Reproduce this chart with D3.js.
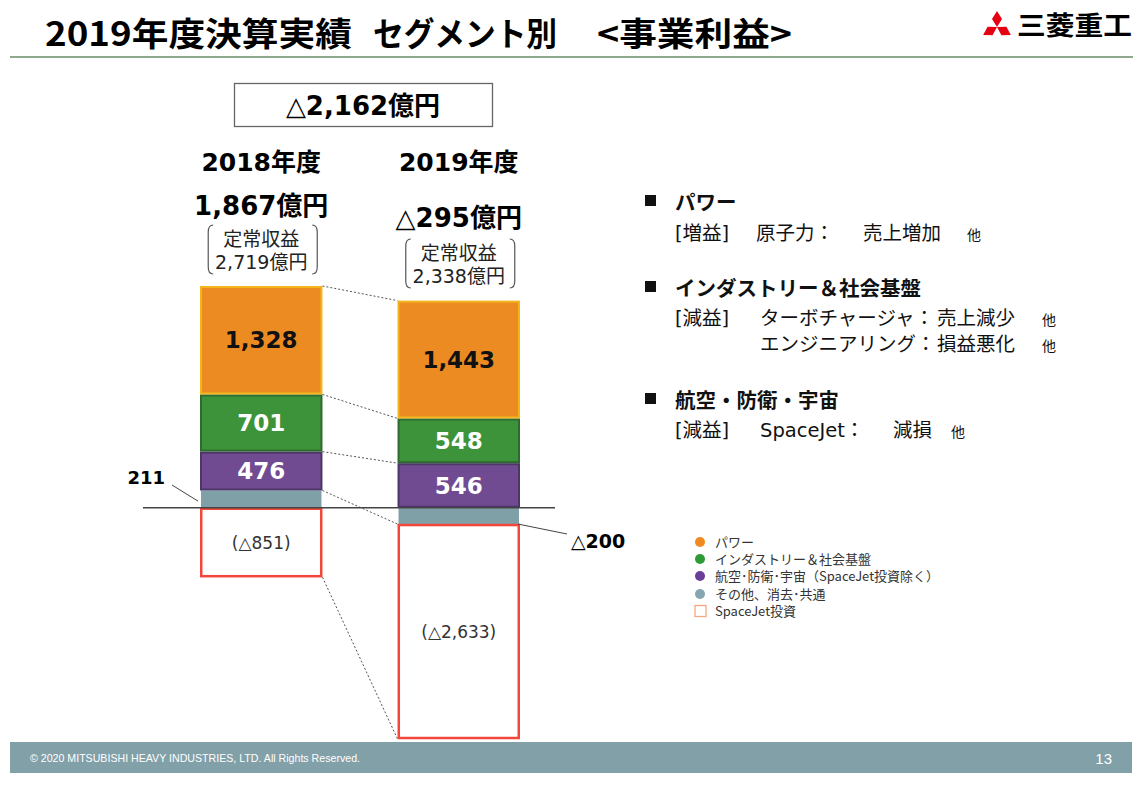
<!DOCTYPE html>
<html>
<head>
<meta charset="utf-8">
<script src="https://cdn.jsdelivr.net/npm/d3@7"></script>
<style>
  body { margin: 0; background: #fff; }
  svg { display: block; }
</style>
</head>
<body>
<svg id="chart" width="1148" height="790"></svg>
<script>
// values (億円)
const years = ['2018年度', '2019年度'];
const power = [1328, 1443];
const industry = [701, 548];
const aero = [476, 546];
const other = [211, -200];
const spaceJet = [-851, -2633];
const totals = ['1,867億円', '△295億円'];
const recurring = ['2,719億円', '2,338億円'];
const diffLabel = '△2,162億円';

const legendLabels = ['パワー', 'インダストリー＆社会基盤', '航空･防衛･宇宙（SpaceJet投資除く）', 'その他、消去･共通', 'SpaceJet投資'];

const colors = {
  power: { fill: '#ec8b22', stroke: '#f4b41e', text: '#111' },
  industry: { fill: '#3d9339', stroke: '#2e6a30', text: '#fff' },
  aero: { fill: '#714b91', stroke: '#4c3668', text: '#fff' },
  other: { fill: '#80a0a8', stroke: 'none', text: '#fff' },
  spaceJet: { fill: '#fff', stroke: '#f2473a', text: '#333' }
};

const NUM = '"DejaVu Sans", "Noto Sans CJK JP", sans-serif';
const JP = '"Noto Sans CJK JP", sans-serif';

const svg = d3.select('#chart');
const fmt = v => (v < 0 ? '△' : '') + d3.format(',')(Math.abs(v));

// ---------- header ----------
// title in three runs so the gaps match the slide
[[45, 307, '2019年度決算実績'], [373, 184, 'セグメント別'], [597, 195, '<事業利益>']].forEach(([tx, tw, txt]) => {
  svg.append('text')
    .attr('x', tx).attr('y', 46)
    .attr('font-family', JP).attr('font-weight', 700).attr('font-size', 33)
    .attr('textLength', tw).attr('lengthAdjust', 'spacingAndGlyphs')
    .text(txt);
});

svg.append('line')
  .attr('x1', 10).attr('x2', 1133).attr('y1', 57).attr('y2', 57)
  .attr('stroke', '#8fa98f').attr('stroke-width', 2);

// logo: three diamonds + name
const logoC = [997, 27], L = 16, W = 10;
[[0, -1], [-0.866, 0.5], [0.866, 0.5]].forEach(([ux, uy]) => {
  const px = -uy, py = ux;
  const pts = [
    [logoC[0], logoC[1]],
    [logoC[0] + ux * L / 2 + px * W / 2, logoC[1] + uy * L / 2 + py * W / 2],
    [logoC[0] + ux * L, logoC[1] + uy * L],
    [logoC[0] + ux * L / 2 - px * W / 2, logoC[1] + uy * L / 2 - py * W / 2]
  ];
  svg.append('polygon').attr('points', pts.map(p => p.join(',')).join(' ')).attr('fill', '#e60012');
});
svg.append('text')
  .attr('x', 1017).attr('y', 35)
  .attr('font-family', JP).attr('font-weight', 700).attr('font-size', 26)
  .attr('textLength', 115).attr('lengthAdjust', 'spacingAndGlyphs')
  .text('三菱重工');

// ---------- chart ----------
function stackYear(i) {
  const parts = [
    { key: 'other', v: other[i] },
    { key: 'aero', v: aero[i] },
    { key: 'industry', v: industry[i] },
    { key: 'power', v: power[i] },
    { key: 'spaceJet', v: spaceJet[i] }
  ];
  let pos = 0, neg = 0;
  return parts.map(p => {
    let y0, y1;
    if (p.v >= 0) { y0 = pos; pos += p.v; y1 = pos; }
    else { y0 = neg; neg += p.v; y1 = neg; }
    return { ...p, y0, y1, year: years[i], i };
  });
}
const stacks = years.map((d, i) => stackYear(i));
const allParts = stacks.flat();

const x = d3.scaleBand().domain(years).range([200, 520]).paddingInner(0.38);
const y = d3.scaleLinear()
  .domain([d3.max(allParts, d => d.y1), d3.min(allParts, d => d.y1)])
  .range([286, 739]);
const bw = x.bandwidth();

// dotted connectors between outer edges of each segment
const keys = ['power', 'industry', 'aero', 'other', 'spaceJet'];
svg.append('g').selectAll('line')
  .data(keys)
  .join('line')
  .attr('x1', x(years[0]) + bw)
  .attr('x2', x(years[1]))
  .attr('y1', k => y(stacks[0].find(p => p.key === k).y1))
  .attr('y2', k => y(stacks[1].find(p => p.key === k).y1))
  .attr('stroke', '#555').attr('stroke-width', 1).attr('stroke-dasharray', '2,2');

// segments
svg.append('g').selectAll('rect')
  .data(allParts)
  .join('rect')
  .attr('x', d => x(d.year) + (d.key === 'spaceJet' ? 1.25 : 1))
  .attr('width', d => bw - (d.key === 'spaceJet' ? 2.5 : 2))
  .attr('y', d => Math.min(y(d.y0), y(d.y1)) + (d.key === 'other' ? 0 : 1))
  .attr('height', d => Math.abs(y(d.y1) - y(d.y0)) - (d.key === 'other' ? 0 : 2))
  .attr('fill', d => colors[d.key].fill)
  .attr('stroke', d => colors[d.key].stroke)
  .attr('stroke-width', d => d.key === 'spaceJet' ? 2.5 : 2);

// zero line
svg.append('line')
  .attr('x1', 143).attr('x2', 555)
  .attr('y1', y(0)).attr('y2', y(0))
  .attr('stroke', '#444').attr('stroke-width', 1.5);

// labels inside segments (other labelled outside)
svg.append('g').selectAll('text')
  .data(allParts.filter(d => d.key !== 'other'))
  .join('text')
  .attr('x', d => x(d.year) + bw / 2)
  .attr('y', d => (y(d.y0) + y(d.y1)) / 2)
  .attr('dy', '0.36em')
  .attr('text-anchor', 'middle')
  .attr('font-family', NUM)
  .attr('font-weight', d => d.key === 'spaceJet' ? 400 : 700)
  .attr('font-size', d => d.key === 'spaceJet' ? 17 : 23)
  .attr('fill', d => colors[d.key].text)
  .text(d => d.key === 'spaceJet' ? `(${fmt(d.v)})` : fmt(d.v));

// callouts for "other"
const o18 = stacks[0].find(p => p.key === 'other');
const o19 = stacks[1].find(p => p.key === 'other');
svg.append('line')
  .attr('x1', 172).attr('y1', 485)
  .attr('x2', x(years[0]) - 2).attr('y2', y((o18.y0 + o18.y1) / 2) + 2)
  .attr('stroke', '#444').attr('stroke-width', 1);
svg.append('text')
  .attr('x', 165).attr('y', 478).attr('dy', '0.36em').attr('text-anchor', 'end')
  .attr('font-family', NUM).attr('font-weight', 700).attr('font-size', 18)
  .text(fmt(o18.v));
svg.append('line')
  .attr('x1', x(years[1]) + bw - 2).attr('y1', y(o19.y1))
  .attr('x2', 567).attr('y2', 534)
  .attr('stroke', '#444').attr('stroke-width', 1);
svg.append('text')
  .attr('x', 571).attr('y', 541).attr('dy', '0.36em')
  .attr('font-family', NUM).attr('font-weight', 700).attr('font-size', 19)
  .text(fmt(o19.v));

// headings above bars
svg.append('rect')
  .attr('x', 234.5).attr('y', 83.5).attr('width', 258).attr('height', 43)
  .attr('fill', 'none').attr('stroke', '#666').attr('stroke-width', 1.3);
svg.append('text')
  .attr('x', 363).attr('y', 115).attr('text-anchor', 'middle')
  .attr('font-family', NUM).attr('font-weight', 700).attr('font-size', 26)
  .text(diffLabel);

const totalY = [215, 227];
const blockTop = [225, 239];
years.forEach((yr, i) => {
  const cx = x(yr) + bw / 2;
  svg.append('text')
    .attr('x', cx).attr('y', 171).attr('text-anchor', 'middle')
    .attr('font-family', NUM).attr('font-weight', 700).attr('font-size', 25)
    .text(yr);
  svg.append('text')
    .attr('x', cx).attr('y', totalY[i]).attr('text-anchor', 'middle')
    .attr('font-family', NUM).attr('font-weight', 700).attr('font-size', 26)
    .text(totals[i]);
  const t = blockTop[i], b = t + 49;
  svg.append('text')
    .attr('x', cx).attr('y', t + 21).attr('text-anchor', 'middle')
    .attr('font-family', JP).attr('font-size', 19).attr('fill', '#222')
    .text('定常収益');
  svg.append('text')
    .attr('x', cx).attr('y', t + 44).attr('text-anchor', 'middle')
    .attr('font-family', NUM).attr('font-size', 19).attr('fill', '#222')
    .text(recurring[i]);
  const lx = cx - 53, rx = cx + 56;
  svg.append('path')
    .attr('d', `M${lx + 5},${t} Q${lx},${t} ${lx},${t + 7} L${lx},${b - 7} Q${lx},${b} ${lx + 5},${b}`)
    .attr('fill', 'none').attr('stroke', '#555').attr('stroke-width', 1.2);
  svg.append('path')
    .attr('d', `M${rx - 5},${t} Q${rx},${t} ${rx},${t + 7} L${rx},${b - 7} Q${rx},${b} ${rx - 5},${b}`)
    .attr('fill', 'none').attr('stroke', '#555').attr('stroke-width', 1.2);
});

// ---------- legend ----------
const legendKeys = ['power', 'industry', 'aero', 'other', 'spaceJet'];
const legendColors = ['#f08a1e', '#2e9a36', '#6b3f98', '#85a6b0', '#f5a880'];
const lg = svg.append('g').attr('transform', 'translate(700,542)');
legendKeys.forEach((k, i) => {
  const ly = [0, 17, 34, 52, 69][i];
  if (k === 'spaceJet') {
    lg.append('rect').attr('x', -5).attr('y', ly - 5.5).attr('width', 11).attr('height', 11)
      .attr('fill', '#fff').attr('stroke', legendColors[i]).attr('stroke-width', 1.3);
  } else {
    lg.append('circle').attr('cx', 0).attr('cy', ly).attr('r', 5).attr('fill', legendColors[i]);
  }
  lg.append('text').attr('x', 15).attr('y', ly).attr('dy', '0.36em')
    .attr('font-family', JP).attr('font-size', 13).attr('fill', '#333')
    .text(legendLabels[i]);
});

// ---------- commentary ----------
const notes = svg.append('g').attr('font-family', JP).attr('fill', '#111');
function heading(yb, txt) {
  notes.append('rect').attr('x', 645).attr('y', yb - 15).attr('width', 11).attr('height', 11).attr('fill', '#111');
  notes.append('text').attr('x', 675).attr('y', yb).attr('font-weight', 700).attr('font-size', 20.5).text(txt);
}
function line(yb, parts) {
  parts.forEach(([px, txt, small]) => {
    notes.append('text').attr('x', px).attr('y', yb)
      .attr('font-family', small ? JP : '"DejaVu Sans", "Noto Sans CJK JP", sans-serif')
      .attr('font-size', small ? 14 : 19.5).text(txt);
  });
}
heading(210, 'パワー');
line(240, [[675, '[増益]'], [756, '原子力：'], [863, '売上増加'], [967, '他', true]]);
heading(296, 'インダストリー＆社会基盤');
line(325, [[675, '[減益]'], [760, 'ターボチャージャ：'], [937, '売上減少'], [1042, '他', true]]);
line(351, [[760, 'エンジニアリング：'], [937, '損益悪化'], [1042, '他', true]]);
heading(408, '航空・防衛・宇宙');
line(437, [[675, '[減益]'], [760, 'SpaceJet：'], [893, '減損'], [951, '他', true]]);

// ---------- footer ----------
svg.append('rect').attr('x', 10).attr('y', 742).attr('width', 1122).attr('height', 31).attr('fill', '#82a0a8');
svg.append('text').attr('x', 30).attr('y', 762)
  .attr('font-family', '"Liberation Sans Narrow", "Liberation Sans", sans-serif').attr('font-size', 11)
  .attr('fill', '#fff').attr('textLength', 330).attr('lengthAdjust', 'spacingAndGlyphs')
  .text('© 2020 MITSUBISHI HEAVY INDUSTRIES, LTD.  All Rights Reserved.');
svg.append('text').attr('x', 1112).attr('y', 764).attr('text-anchor', 'end')
  .attr('font-family', '"Liberation Sans Narrow", "Liberation Sans", sans-serif').attr('font-size', 15)
  .attr('fill', '#fff').text('13');
</script>
</body>
</html>
